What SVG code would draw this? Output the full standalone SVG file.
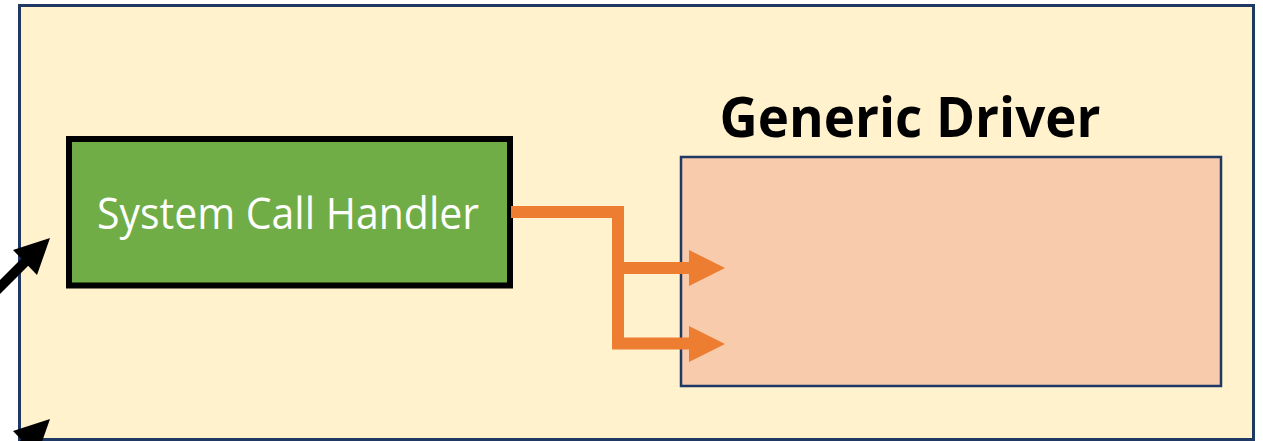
<svg xmlns="http://www.w3.org/2000/svg" width="1263" height="441" viewBox="0 0 1263 441">
<defs>
<style>
.orange{fill:none;stroke:#ED7D31;stroke-width:12;stroke-linejoin:miter}
.ahO{fill:#ED7D31}
.blk{stroke:#000;stroke-width:10;fill:none}
</style>
</defs>
<rect width="1263" height="441" fill="#FFFFFF"/>
<g id="outer">
<rect x="19.5" y="5.5" width="1234" height="434" fill="#FFF2CC" stroke="#1F3864" stroke-width="3"/>
</g>
<g id="handler">
<rect x="69" y="139" width="441" height="146.5" fill="#70AD47" stroke="#000" stroke-width="6"/>
<text x="288" y="229" font-family="Open Sans, Liberation Sans, sans-serif" font-size="44" fill="#FFFFFF" text-anchor="middle" textLength="382" lengthAdjust="spacingAndGlyphs">System Call Handler</text>
</g>
<g id="driver">
<text x="910" y="137" font-family="Open Sans, Liberation Sans, sans-serif" font-weight="bold" font-size="55" fill="#000" text-anchor="middle" textLength="381" lengthAdjust="spacingAndGlyphs">Generic Driver</text>
<rect x="681" y="157" width="540" height="229" fill="#F8CBAD" stroke="#1F3864" stroke-width="2.5"/>
</g>
<g id="connectors">
<polyline class="orange" points="511,212 618,212 618,349"/>
<line class="orange" x1="618" y1="268" x2="692" y2="268"/>
<line class="orange" x1="612" y1="343.5" x2="692" y2="343.5"/>
<polygon class="ahO" points="689,250 725,268 689,286"/>
<polygon class="ahO" points="689,326 725,344 689,362"/>
<line class="blk" x1="-10" y1="297" x2="28" y2="259"/>
<polygon fill="#000" points="50,238 13,250 37,275"/>
<line class="blk" x1="-10" y1="478" x2="28" y2="440"/>
<polygon fill="#000" points="50,419 13,431 37,456"/>
</g>
</svg>
